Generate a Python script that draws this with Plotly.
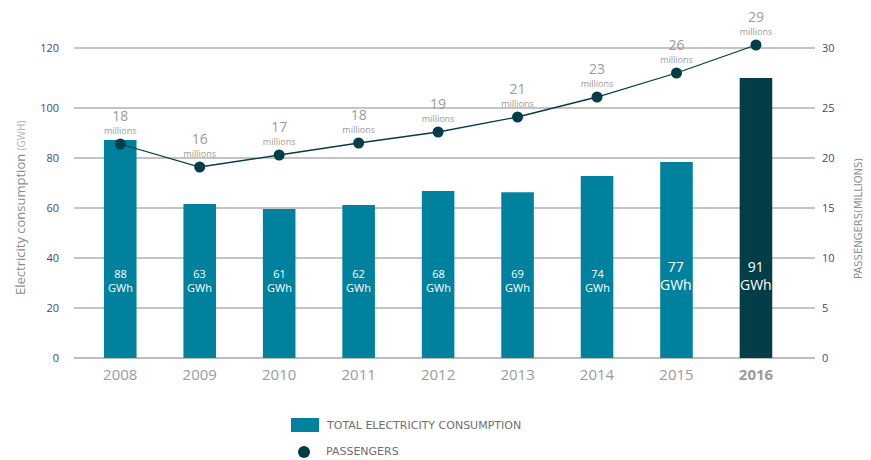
import plotly.graph_objects as go

# ---- data ----
years = ["2008", "2009", "2010", "2011", "2012", "2013", "2014", "2015", "2016"]
consumption_bar = [87.2, 61.6, 59.6, 61.2, 66.8, 66.3, 72.8, 78.4, 112.0]   # drawn bar heights (left axis)
consumption_labels = ["88", "63", "61", "62", "68", "69", "74", "77", "91"]   # printed GWh values
passengers_pt = [21.4, 19.1, 20.3, 21.5, 22.6, 24.1, 26.1, 28.5, 31.3]      # drawn dot heights (right axis)
passengers_labels = ["18", "16", "17", "18", "19", "21", "23", "26", "29"]  # printed millions
left_ticks = [0, 20, 40, 60, 80, 100, 124]
left_ticktext = ["0", "20", "40", "60", "80", "100", "120"]
right_ticks = [0, 5, 10, 15, 20, 25, 31]
right_ticktext = ["0", "5", "10", "15", "20", "25", "30"]

OFF = 8                     # default page body margin
W, H = 871 - OFF, 460 - OFF
# plot area in page pixels: x 74..815, y 33..358
ML = 74 - OFF
MR = W - (815 - OFF)
MT = 33 - OFF
MB = H - (358 - OFF)
PW, PH = W - ML - MR, H - MT - MB

TEAL = "#00829e"
DARK = "#033d47"
GREY = "#9b9b9b"
TICK = "#48457f"
FONT = "Open Sans"
WIDE = "DejaVu Sans"

def px_x(px):   # page pixel -> paper x
    return (px - OFF - ML) / PW

def px_y(py):   # page pixel -> paper y
    return (H - MB - (py - OFF)) / PH

bar_colors = [DARK if y == "2016" else TEAL for y in years]

fig = go.Figure()
fig.add_trace(go.Bar(
    x=years, y=consumption_bar, marker=dict(color=bar_colors, line=dict(width=0)),
    width=0.41, showlegend=False, hoverinfo="skip",
))
fig.add_trace(go.Scatter(
    x=years, y=passengers_pt, yaxis="y2", mode="lines+markers+text",
    line=dict(color=DARK, width=1.3),
    marker=dict(color=DARK, size=11),
    text=[f"<span style='font-size:14px'>{v}</span><br><span style='font-size:9px'>millions</span>"
          for v in passengers_labels],
    textposition="top center",
    textfont=dict(family=FONT, size=10, color=GREY),
    cliponaxis=False, showlegend=False, hoverinfo="skip",
))

# labels inside bars
for i, lab in enumerate(consumption_labels):
    big = years[i] in ("2015", "2016")
    fig.add_annotation(
        x=i, y=33 if big else 31, xref="x", yref="y",
        text=f"{lab}<br>GWh", showarrow=False,
        font=dict(family=FONT, size=14 if big else 11, color="white"),
    )

# axis titles
fig.add_annotation(
    x=px_x(20), y=px_y(208), xref="paper", yref="paper", textangle=-90,
    xanchor="center", yanchor="middle",
    text="Electricity consumption <span style='font-size:10px;color:#b0b0b0'>(GWH)</span>",
    showarrow=False, font=dict(family=FONT, size=13, color="#8c8c8c"),
)
fig.add_annotation(
    x=px_x(858), y=px_y(219), xref="paper", yref="paper", textangle=-90,
    xanchor="center", yanchor="middle",
    text="PASSENGERS(MILLIONS)", showarrow=False,
    font=dict(family=WIDE, size=10, color="#8c8c8c"),
)

# manual legend
fig.add_shape(type="rect", xref="paper", yref="paper",
              x0=px_x(291), x1=px_x(319), y0=px_y(432), y1=px_y(418),
              fillcolor=TEAL, line=dict(width=0))
fig.add_shape(type="circle", xref="paper", yref="paper",
              x0=px_x(298), x1=px_x(310), y0=px_y(458), y1=px_y(446),
              fillcolor=DARK, line=dict(width=0))
fig.add_annotation(x=px_x(324), y=px_y(426), xref="paper", yref="paper",
                   xanchor="left", yanchor="middle",
                   text="TOTAL ELECTRICITY CONSUMPTION", showarrow=False,
                   font=dict(family=WIDE, size=11, color="#6f6f6f"))
fig.add_annotation(x=px_x(324), y=px_y(451), xref="paper", yref="paper",
                   xanchor="left", yanchor="middle",
                   text="PASSENGERS", showarrow=False,
                   font=dict(family=WIDE, size=11, color="#6f6f6f"))

fig.update_layout(
    width=W, height=H,
    margin=dict(l=ML, r=MR, t=MT, b=MB, autoexpand=False),
    paper_bgcolor="white", plot_bgcolor="white",
    font=dict(family=FONT),
    xaxis=dict(
        type="category", range=[-0.582, 8.743], showgrid=False, zeroline=False,
        showline=False, ticks="",
        tickvals=years,
        ticktext=[f"<b>{y}</b>" if y == "2016" else y for y in years],
        tickfont=dict(family=FONT, size=15, color=GREY),
        ticklabelstandoff=6,
    ),
    yaxis=dict(
        range=[0, PH / 2.5], tickvals=left_ticks, ticktext=left_ticktext,
        showgrid=True, gridcolor="#c4c4c4", gridwidth=1.5,
        zeroline=True, zerolinecolor="#bdbdbd", zerolinewidth=2,
        showline=False, ticks="",
        tickfont=dict(family=FONT, size=11, color=TICK),
        ticklabelstandoff=14,
    ),
    yaxis2=dict(
        range=[0, PH / 10.0], overlaying="y", side="right",
        tickvals=right_ticks, ticktext=right_ticktext,
        showgrid=False, zeroline=False, showline=False, ticks="",
        tickfont=dict(family=FONT, size=11, color=TICK),
        ticklabelstandoff=6,
    ),
)

fig.write_html("out.html")
